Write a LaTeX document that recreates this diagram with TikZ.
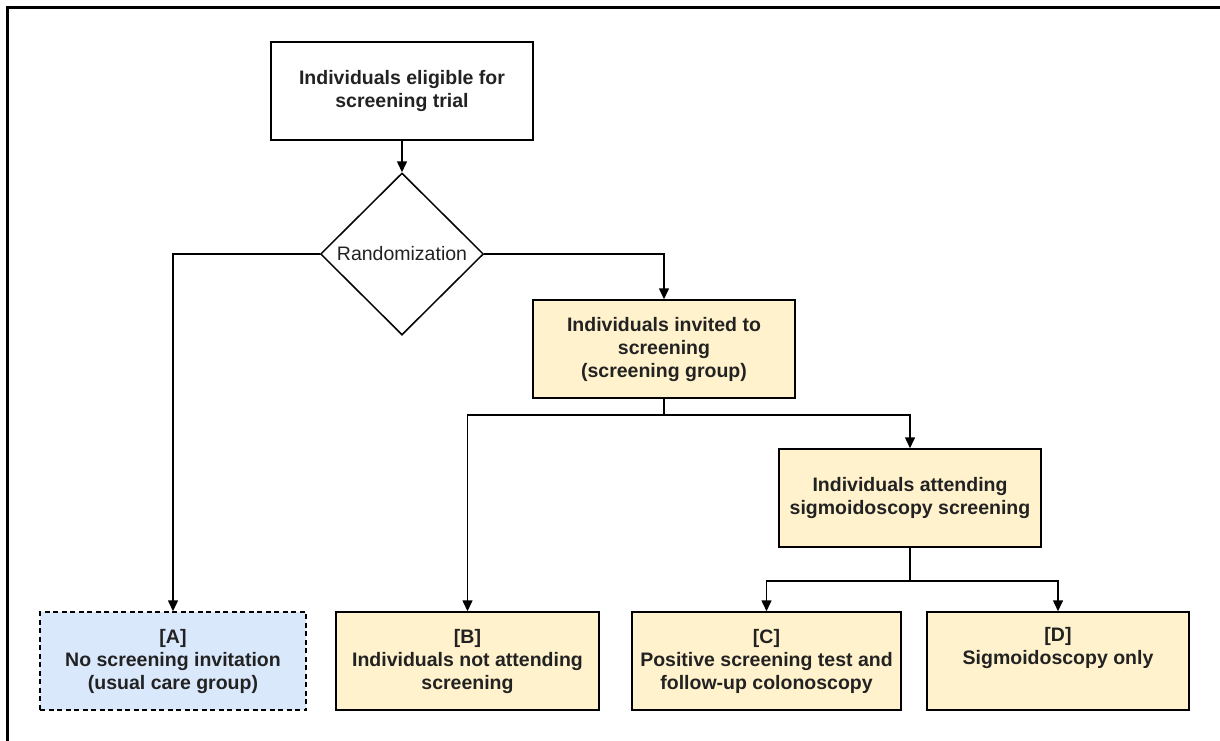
\documentclass[tikz,border=0pt]{standalone}
\usepackage{fontspec}
\setmainfont{Liberation Sans}
\usetikzlibrary{shapes.geometric,arrows.meta,calc}
\definecolor{boxyellow}{HTML}{FFF2CC}
\definecolor{boxblue}{HTML}{DAE8FC}
\definecolor{txt}{HTML}{222222}
\begin{document}
\begin{tikzpicture}[x=1pt,y=-1pt,
  every node/.style={text=txt,font=\fontsize{19.5}{23}\selectfont},
  box/.style={draw=black,line width=1.5pt,rectangle,inner sep=0pt,minimum height=98pt,align=center,font=\fontsize{19.5}{23}\selectfont\bfseries},
  ybox/.style={box,fill=boxyellow},
  dbox/.style={box,fill=boxblue,dashed,dash pattern=on 5pt off 3.5pt},
  decision/.style={draw=black,line width=1.5pt,diamond,inner sep=0pt,minimum width=163pt,minimum height=162pt,aspect=1},
  arr/.style={draw=black,line width=1.5pt,-{Triangle[length=11pt,width=10pt]}},
  conn/.style={draw=black,line width=1.5pt}]
\useasboundingbox (0,0) rectangle (1220,740);
\draw[line width=2.5pt] (7.5,742) -- (7.5,7.5) -- (1222,7.5);
\node[box,minimum width=262pt] (top) at (402,91) {Individuals eligible for\\screening trial};
\node[decision] (rand) at (402,254) {};
\node at (rand) {Randomization};
\node[ybox,minimum width=262pt] (inv) at (664,349) {Individuals invited to\\screening\\(screening group)};
\node[ybox,minimum width=262pt] (att) at (910,498) {Individuals attending\\sigmoidoscopy screening};
\node[dbox,minimum width=266pt] (A) at (173,661) {[A]\\No screening invitation\\(usual care group)};
\node[ybox,minimum width=263pt] (B) at (467.5,661) {[B]\\Individuals not attending\\screening};
\node[ybox,minimum width=269pt] (C) at (766.5,661) {[C]\\Positive screening test and\\follow-up colonoscopy};
\node[ybox,minimum width=262pt] (D) at (1058,661) {[D]\\Sigmoidoscopy only\\\strut};
\coordinate (j1) at ($(inv.south)+(0,16)$);
\coordinate (j2) at ($(att.south)+(0,33)$);
\draw[arr] (top.south) -- (rand.north);
\draw[arr] (rand.west) -| (A.north);
\draw[arr] (rand.east) -| (inv.north);
\draw[conn] (inv.south) -- (j1);
\draw[arr] (j1) -| (B.north);
\draw[arr] (j1) -| (att.north);
\draw[conn] (att.south) -- (j2);
\draw[arr] (j2) -| (C.north);
\draw[arr] (j2) -| (D.north);
\end{tikzpicture}
\end{document}
